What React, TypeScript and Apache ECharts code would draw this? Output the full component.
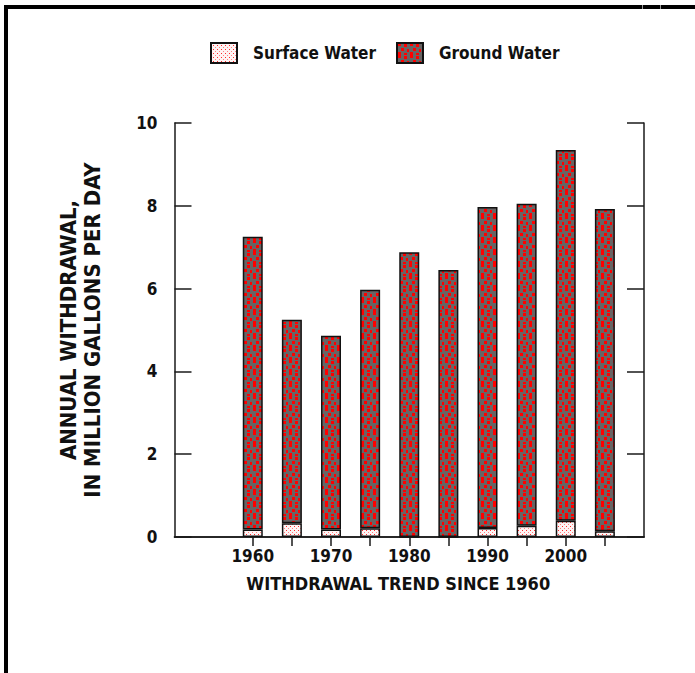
import React, { useEffect, useRef } from "react";
import * as echarts from "echarts";

// ---- data ----
const axisYears = ["1950", "1955", "1960", "1965", "1970", "1975", "1980", "1985", "1990", "1995", "2000", "2005", "2010"];
const years = ["1960", "1965", "1970", "1975", "1980", "1985", "1990", "1995", "2000", "2005"];
const surfaceWater = [0.18, 0.33, 0.18, 0.21, 0, 0, 0.22, 0.27, 0.39, 0.14];
const groundWater = [7.07, 4.92, 4.68, 5.76, 6.88, 6.45, 7.75, 7.78, 8.96, 7.78];
const xLabelYears = ["1960", "1970", "1980", "1990", "2000"];
const topTickYears = ["1960", "1965", "1970", "1975", "1980", "1985", "1990", "1995", "2000", "2005"];

const FONT = "'DejaVu Sans Condensed', 'Liberation Sans Narrow', sans-serif";

function makeGroundPattern() {
  const c = document.createElement("canvas");
  c.width = 12;
  c.height = 12;
  const ctx = c.getContext("2d")!;
  ctx.fillStyle = "#686464";
  ctx.fillRect(0, 0, 12, 12);
  ctx.fillStyle = "#ff0000";
  const sq = [
    [1, 0],
    [7, 1],
    [4, 5],
    [10, 6],
    [1, 9],
    [7, 10],
  ];
  sq.forEach(([x, y]) => ctx.fillRect(x, y, 3, 3));
  return { image: c, repeat: "repeat" as const, imageWidth: 12, imageHeight: 12 };
}

function makeSurfacePattern() {
  const c = document.createElement("canvas");
  c.width = 4;
  c.height = 4;
  const ctx = c.getContext("2d")!;
  ctx.fillStyle = "#fff4f4";
  ctx.fillRect(0, 0, 4, 4);
  ctx.fillStyle = "#ff8080";
  ctx.fillRect(0, 0, 1, 1);
  ctx.fillStyle = "#ff2a2a";
  ctx.fillRect(2, 2, 1, 1);
  return { image: c, repeat: "repeat" as const, imageWidth: 4, imageHeight: 4 };
}

const valueFor = (arr: number[]) =>
  axisYears.map((y) => {
    const i = years.indexOf(y);
    return i < 0 ? null : arr[i];
  });

export default function App() {
  const ref = useRef<HTMLDivElement>(null);
  useEffect(() => {
    if (!ref.current) return;
    const chart = echarts.init(ref.current, null, { renderer: "svg" });
    const axisColor = "#1a1a1a";
    const labelStyle = { fontFamily: FONT, fontWeight: "bold" as const, fontSize: 17, color: "#111" };
    const option: any = {
      animation: false,
      backgroundColor: "#ffffff",
      legend: {
        left: 205,
        top: 37,
        itemWidth: 26,
        itemHeight: 20,
        itemGap: 20,
        selectedMode: false,
        icon: "rect",
        textStyle: { ...labelStyle, padding: [0, 0, 0, 11] },
        data: ["Surface Water", "Ground Water"],
      },
      grid: { left: 174.5, right: 51, top: 123, bottom: 136 },
      xAxis: [
        {
          type: "category",
          data: axisYears,
          boundaryGap: false,
          position: "bottom",
          axisLine: { show: true, lineStyle: { color: axisColor, width: 1.5 } },
          axisTick: { show: false },
          splitLine: { show: false },
          axisLabel: {
            ...labelStyle,
            margin: 10,
            interval: (_i: number, v: string) => xLabelYears.indexOf(v) >= 0,
          },
          name: "WITHDRAWAL TREND SINCE 1960",
          nameLocation: "middle",
          nameGap: 37,
          nameTextStyle: { ...labelStyle, fontSize: 18, padding: [0, 22, 0, 0] },
        },
        {
          type: "category",
          data: axisYears,
          boundaryGap: false,
          position: "top",
          axisLine: { show: true, lineStyle: { color: axisColor, width: 1.5 } },
          axisTick: {
            show: true,
            inside: true,
            length: 9,
            lineStyle: { color: axisColor, width: 1.5 },
            interval: (_i: number, v: string) => topTickYears.indexOf(v) >= 0,
          },
          axisLabel: { show: false },
          splitLine: { show: false },
        },
      ],
      yAxis: [
        {
          type: "value",
          min: 0,
          max: 10,
          interval: 2,
          position: "left",
          axisLine: { show: true, lineStyle: { color: axisColor, width: 1.5 } },
          axisTick: { show: true, inside: true, length: 17, lineStyle: { color: axisColor, width: 1.5 } },
          splitLine: { show: false },
          axisLabel: { ...labelStyle, margin: 17 },
          name: "ANNUAL WITHDRAWAL,\nIN MILLION GALLONS PER DAY",
          nameLocation: "middle",
          nameRotate: 90,
          nameGap: 70.5,
          nameTextStyle: { ...labelStyle, fontSize: 22, lineHeight: 24, align: "center" },
        },
        {
          type: "value",
          min: 0,
          max: 10,
          interval: 2,
          position: "right",
          axisLine: { show: true, lineStyle: { color: axisColor, width: 1.5 } },
          axisTick: { show: true, inside: true, length: 17, lineStyle: { color: axisColor, width: 1.5 } },
          splitLine: { show: false },
          axisLabel: { show: false },
        },
      ],
      series: [
        {
          name: "Surface Water",
          type: "bar",
          stack: "w",
          barWidth: 20,
          xAxisIndex: 0,
          yAxisIndex: 0,
          data: valueFor(surfaceWater),
          itemStyle: { color: makeSurfacePattern(), borderColor: "#111", borderWidth: 1.5 },
        },
        {
          name: "Ground Water",
          type: "bar",
          stack: "w",
          barWidth: 20,
          xAxisIndex: 0,
          yAxisIndex: 0,
          data: valueFor(groundWater),
          itemStyle: { color: makeGroundPattern(), borderColor: "#111", borderWidth: 1.5 },
        },
      ],
      graphic: [
        { type: "rect", shape: { x: 4, y: 5, width: 691, height: 4 }, style: { fill: "#000" }, silent: true },
        { type: "rect", shape: { x: 4, y: 5, width: 4, height: 668 }, style: { fill: "#000" }, silent: true },
        { type: "rect", shape: { x: 642, y: 5, width: 1, height: 4 }, style: { fill: "#999" }, silent: true },
        { type: "rect", shape: { x: 660, y: 5, width: 1, height: 4 }, style: { fill: "#999" }, silent: true },
      ],
    };
    chart.setOption(option);
    return () => chart.dispose();
  }, []);
  return (
    <div
      ref={ref}
      style={{ position: "absolute", left: 0, top: 0, width: 695, height: 673 }}
    />
  );
}
